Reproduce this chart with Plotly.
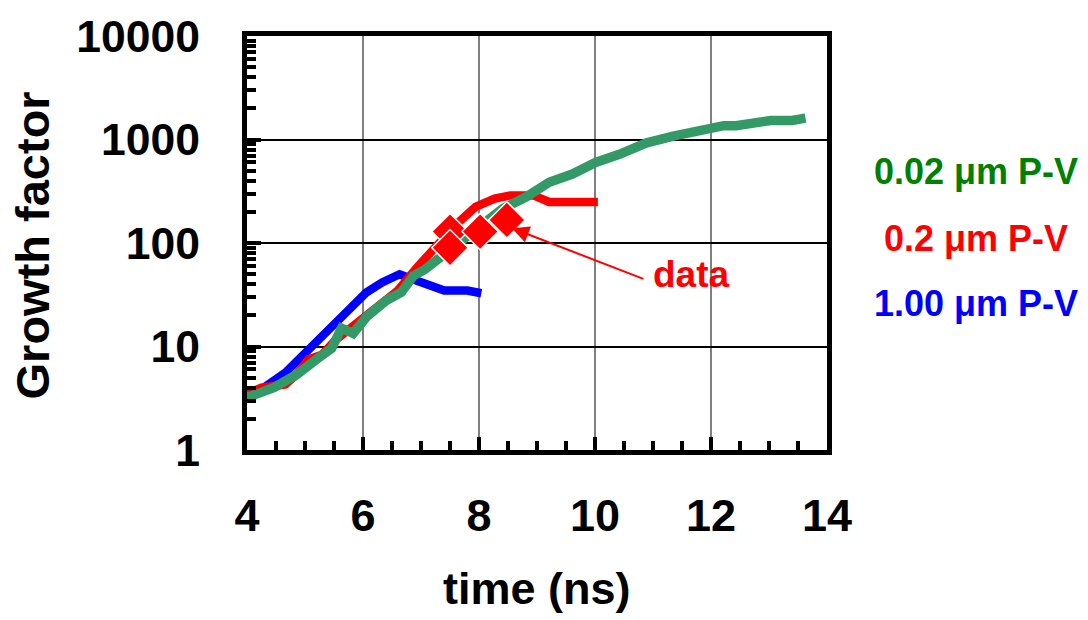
import plotly.graph_objects as go

# Growth factor vs time for three initial perturbation amplitudes (P-V)
t_002 = [3.82, 4.05, 4.46, 4.86, 5.19, 5.46, 5.63, 5.83, 6.06, 6.40, 6.66, 6.87,
         7.07, 7.40, 7.74, 8.07, 8.41, 8.81, 9.21, 9.61, 10.01, 10.42, 10.89,
         11.35, 11.76, 12.22, 12.43, 12.69, 12.86, 13.03, 13.40, 13.63]
g_002 = [3.29, 3.29, 4.0, 5.37, 7.46, 9.6, 15.0, 13.4, 19.3, 27.8, 33.4, 48.2,
         55.7, 77.4, 112, 161, 215, 278, 386, 464, 600, 720, 929,
         1076, 1200, 1360, 1360, 1442, 1442, 1528, 1528, 1607]

t_02 = [3.99, 4.25, 4.66, 4.86, 5.06, 5.29, 5.53, 5.86, 6.26, 6.60, 6.93, 7.27,
        7.60, 7.94, 8.27, 8.54, 8.94, 9.21, 10.05]
g_02 = [3.47, 4.0, 4.3, 5.4, 7.5, 8.3, 11.6, 16.0, 24.0, 34.7, 57.8, 96,
        150, 223, 268, 288, 288, 249, 249]

t_100 = [3.99, 4.25, 4.66, 5.06, 5.39, 5.73, 6.06, 6.33, 6.63, 6.93, 7.40, 7.80, 8.04]
g_100 = [3.47, 3.86, 5.57, 9.3, 13.9, 22.3, 33.4, 41.6, 49.9, 43.2, 34.7, 34.7, 32.7]

# Measured growth factors
data_t = [7.50, 7.50, 8.02, 8.48]
data_g = [129, 90, 129, 167]

series_labels = ["0.02 \u03bcm P-V", "0.2 \u03bcm P-V", "1.00 \u03bcm P-V"]
x_ticks = [4, 6, 8, 10, 12, 14]
y_ticks = [1, 10, 100, 1000, 10000]

FONT = "Liberation Sans, Arial, Helvetica, sans-serif"

fig = go.Figure()
fig.add_trace(go.Scatter(x=t_100, y=g_100, mode="lines",
                         line=dict(color="#0000FF", width=8.5)))
fig.add_trace(go.Scatter(x=t_02, y=g_02, mode="lines",
                         line=dict(color="#FF0000", width=8.5)))
fig.add_trace(go.Scatter(x=t_002, y=g_002, mode="lines",
                         line=dict(color="#339966", width=9.5)))
fig.add_trace(go.Scatter(x=data_t, y=data_g, mode="markers",
                         marker=dict(symbol="diamond", size=28, color="#FF0000",
                                     line=dict(color="white", width=1.5))))

fig.update_layout(
    width=1088, height=620,
    margin=dict(l=247, r=261, t=30, b=170),
    paper_bgcolor="white", plot_bgcolor="white",
    showlegend=False,
    font=dict(family=FONT, color="black"),
)

fig.update_xaxes(
    range=[4, 14], tickvals=x_ticks, ticktext=[str(v) for v in x_ticks],
    showgrid=True, gridcolor="#808080", gridwidth=1.5, zeroline=False,
    showline=True, linecolor="black", linewidth=5, mirror=True,
    ticks="inside", ticklen=13, tickwidth=4, tickcolor="black",
    tickfont=dict(family=FONT, size=45, weight="bold", color="black"),
    ticklabelstandoff=22,
    minor=dict(ticks="inside", dtick=0.5, tick0=4, ticklen=9, tickwidth=4,
               tickcolor="black", showgrid=False),
)

fig.update_yaxes(
    type="log", range=[0, 4], tickvals=y_ticks, ticktext=[str(v) for v in y_ticks],
    showgrid=True, gridcolor="black", gridwidth=1.5, zeroline=False,
    showline=True, linecolor="black", linewidth=5, mirror=True,
    ticks="inside", ticklen=14, tickwidth=4, tickcolor="black",
    tickfont=dict(family=FONT, size=44.5, weight="bold", color="black"),
    ticklabelstandoff=33,
    minor=dict(ticks="inside", dtick="D1", ticklen=9, tickwidth=4,
               tickcolor="black", showgrid=False),
)

ann = []
# axis titles
ann.append(dict(text="time (ns)", xref="paper", yref="paper", x=0.5, y=-0.335,
                xanchor="center", yanchor="middle", showarrow=False,
                font=dict(family=FONT, size=45, weight="bold", color="black")))
ann.append(dict(text="Growth factor", xref="paper", yref="paper", x=-0.37, y=0.495,
                xanchor="center", yanchor="middle", textangle=-90, showarrow=False,
                font=dict(family=FONT, size=47, weight="bold", color="black")))
# series labels
label_colors = ["#008000", "#FF0000", "#0000FF"]
label_y = [0.672, 0.512, 0.354]
for txt, col, yy in zip(series_labels, label_colors, label_y):
    ann.append(dict(text=txt, xref="paper", yref="paper", x=1.257, y=yy,
                    xanchor="center", yanchor="middle", showarrow=False,
                    font=dict(family=FONT, size=36, weight="bold", color=col)))
# data callout
ann.append(dict(text="data", xref="x", yref="y", x=10.97, y=1.7,
                xanchor="left", yanchor="middle", showarrow=False,
                font=dict(family=FONT, size=37, weight="bold", color="#FF0000")))
ann.append(dict(text="", xref="x", yref="y", x=8.57, y=2.143,
                axref="x", ayref="y", ax=10.86, ay=1.648,
                showarrow=True, arrowhead=2, arrowsize=1.7, arrowwidth=2,
                arrowcolor="#FF0000"))
fig.update_layout(annotations=ann)

fig.write_html("out.html")
